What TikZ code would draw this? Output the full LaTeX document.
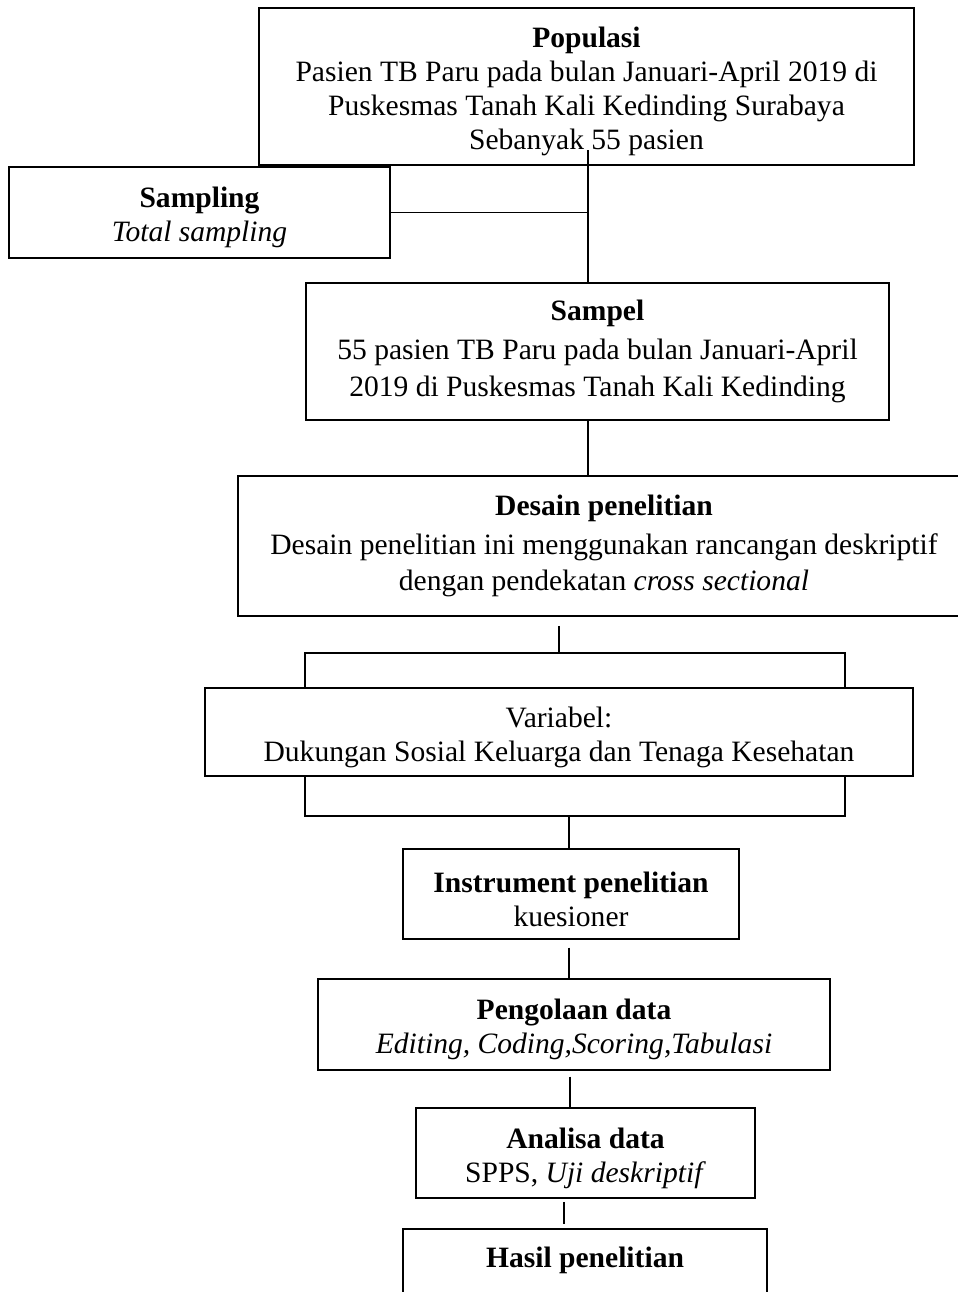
\documentclass[tikz,border=0pt]{standalone}
\usepackage{fontspec}
\setmainfont{Liberation Serif}
\usepackage{tikz}
\usetikzlibrary{calc,positioning}

% lowers the text a little in the box
\newcommand{\lift}{\rule{0pt}{12.5pt}}

\begin{document}
\begin{tikzpicture}[x=0.406pt, y=-0.406pt, font=\fontsize{12}{13.8}\selectfont,
	box/.style={draw, line width=0.7pt, align=center, inner sep=0pt},
	link/.style={line width=0.5pt}]
	\useasboundingbox (0,0) rectangle (958,1292);

	\node (pop) at (586.5, 86.5) [box, minimum width=265.9pt, minimum height=63.7pt] {\lift\textbf{Populasi}\\ Pasien TB Paru pada bulan Januari-April 2019 di\\ Puskesmas Tanah Kali Kedinding Surabaya\\ Sebanyak 55 pasien};
	\node (samp) at (199.5, 212.5) [box, minimum width=154.7pt, minimum height=36.9pt] {\lift\textbf{Sampling}\\ \textit{Total sampling}};
	\node (sam) at (597.5, 351.5) [box, minimum width=236.7pt, minimum height=55.6pt] {\textbf{Sampel}\\[2pt] 55 pasien TB Paru pada bulan Januari-April\\[1pt] 2019 di Puskesmas Tanah Kali Kedinding};
	\node (des) at (604, 546) [box, minimum width=297.2pt, minimum height=56.8pt] {\textbf{Desain penelitian}\\[2pt] Desain penelitian ini menggunakan rancangan deskriptif\\[1pt] dengan pendekatan \textit{cross sectional}};
	\node (var) at (559, 732) [box, minimum width=287.4pt, minimum height=35.7pt] {\lift Variabel:\\ Dukungan Sosial Keluarga dan Tenaga Kesehatan};
	\node (ins) at (571, 894) [box, minimum width=136.4pt, minimum height=36.5pt] {\lift\textbf{Instrument penelitian}\\ kuesioner};
	\node (olah) at (574, 1024.5) [box, minimum width=207.9pt, minimum height=36.9pt] {\lift\textbf{Pengolaan data}\\ \textit{Editing, Coding,Scoring,Tabulasi}};
	\node (ana) at (585.5, 1153) [box, minimum width=137.6pt, minimum height=36.5pt] {\lift\textbf{Analisa data}\\ SPPS, \textit{Uji deskriptif}};
	% bottom of this one runs off the page
	\node (has) at (585, 1274.5) [box, minimum width=147.8pt, minimum height=36.9pt] {\lift\textbf{Hasil penelitian}\\ \strut};

	% main line from populasi down
	\coordinate (popin) at (588, 150);
	\draw [link] (popin) -- (popin |- sam.north);
	\draw [link] (samp.east) -- (samp.east -| popin);
	\draw [link] (popin |- sam.south) -- (popin |- des.north);

	% brackets round variabel
	\coordinate (desout) at (559, 625);
	\coordinate (brl) at (305, 653);
	\coordinate (brr) at (845, 653);
	\draw [link, shorten <=3.7pt] (des.south -| desout) -- (desout |- brl);
	\draw [link] (brl |- var.north) -- (brl) -- (brr) -- (brr |- var.north);
	\coordinate (bbl) at (305, 816);
	\coordinate (bbr) at (845, 816);
	\draw [link] (bbl |- var.south) -- (bbl) -- (bbr) -- (bbr |- var.south);
	\coordinate (insin) at (569, 816);
	\draw [link] (insin) -- (insin |- ins.north);

	\coordinate (olahax) at (570, 0);
	\coordinate (hasax) at (564, 0);
	\draw [link, shorten <=3.2pt] (ins.south -| insin) -- (olah.north -| insin);
	\draw [link, shorten <=2.4pt] (olah.south -| olahax) -- (ana.north -| olahax);
	\draw [link, shorten <=1.2pt, shorten >=1.6pt] (ana.south -| hasax) -- (has.north -| hasax);
\end{tikzpicture}
\end{document}
